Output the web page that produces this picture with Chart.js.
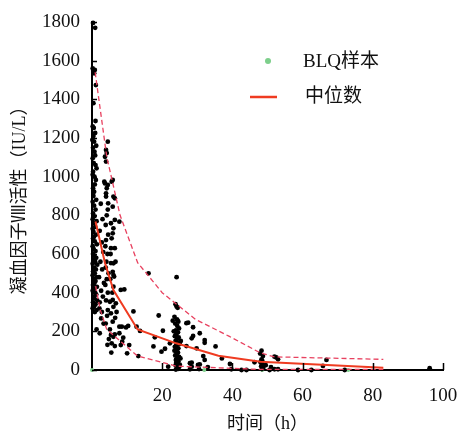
<!DOCTYPE html>
<html>
<head>
<meta charset="utf-8">
<script src="https://cdn.jsdelivr.net/npm/chart.js@4.4.1/dist/chart.umd.min.js"></script>
<style>
    html, body { margin: 0; padding: 0; background: #fff; }
    #wrap { width: 460px; height: 432px; }
</style>
</head>
<body>
<div id="wrap"><canvas id="fviiiChart"></canvas></div>
<script>
// --- data ---
const xTicks = [0, 20, 40, 60, 80, 100];
const yTicks = [0, 200, 400, 600, 800, 1000, 1200, 1400, 1600, 1800];

// observed samples: [time (h), FVIII activity (IU/L)]
const samplePoints = [
    // 0 - 1.5 h
    [0.3,1795],[0.9,1770],[0.2,1560],[0.8,1552],[0.6,1535],[1.1,1474],[0.4,1380],[1.0,1288],
    [0.2,1260],[0.5,1252],[0.9,1226],[0.4,1210],[0.1,1190],[0.6,1181],[1.2,1160],[0.3,1150],
    [0.7,1129],[0.9,1110],[0.2,1095],[0.5,1070],[1.0,1060],[1.3,1043],[0.3,1026],[0.2,1010],
    [0.7,1000],[1.1,983],[0.8,960],[0.3,940],[0.6,922],[0.4,900],[1.2,880],[0.2,870],
    [0.6,850],[1.0,830],[0.3,810],[0.7,795],[0.2,780],[1.3,770],[0.5,760],[0.9,740],
    [0.2,730],[0.4,715],[1.1,700],[0.6,690],[0.3,680],[0.8,665],[1.4,650],[0.2,640],
    [0.5,625],[1.0,615],[0.3,600],[0.7,590],[1.2,580],[0.4,570],[0.9,560],[0.2,550],
    [1.5,545],[0.6,530],[1.1,520],[0.3,510],[0.8,500],[0.2,490],[1.3,480],[0.5,470],
    [1.0,460],[0.7,450],[0.3,440],[1.4,430],[0.6,420],[0.2,410],[0.9,400],[1.2,390],
    [0.4,380],[0.7,370],[1.5,360],[0.3,350],[1.0,340],[0.6,330],[0.2,320],[1.3,310],
    [0.8,300],[1.3,210],
    // 2 - 3.5 h
    [2.1,319],[2.6,267],[2.2,190],[3.5,974],[2.5,860],[3.0,780],[2.2,720],[2.8,660],
    [3.2,610],[2.4,560],[2.9,520],[2.0,480],[3.4,450],[2.6,410],[3.1,380],[2.2,350],
    [2.8,300],[3.3,240],
    // 3.7 - 5 h
    [4.5,1181],[4.0,1138],[4.2,1122],[3.7,1103],[4.0,1078],[4.5,957],[3.7,965],[4.2,940],
    [4.0,914],[4.0,897],[4.6,862],[4.5,830],[4.2,800],[3.9,750],[4.6,700],[4.0,672],
    [3.8,640],[4.4,600],[4.1,560],[3.9,530],[4.7,500],[4.2,470],[3.8,440],[4.5,400],
    [4.0,360],[4.5,310],[4.3,280],[3.9,240],[4.8,160],[4.4,130],
    // 5 - 10 h
    [5.9,983],[5.6,974],[6.5,888],[6.1,897],[5.9,845],[7.8,767],[6.5,776],[5.4,759],
    [6.1,733],[5.9,707],[5.6,681],[6.5,630],[5.4,630],[5.3,600],[6.7,560],[5.4,553],
    [6.1,552],[5.9,508],[6.3,483],[6.1,491],[5.2,470],[6.1,431],[8.2,414],[9.2,417],
    [5.8,400],[5.9,362],[5.1,353],[6.8,345],[6.1,327],[7.0,300],[5.4,293],[6.6,270],
    [5.9,250],[7.8,224],[8.5,224],[9.7,220],[5.1,210],[7.8,190],[5.4,181],[6.5,184],
    [6.1,172],[8.9,167],[8.6,146],[5.6,138],[6.5,124],[8.2,129],[10.6,129],[10.0,86],
    [5.5,90],
    // 10 - 23 h
    [11.8,303],[10.3,228],[12.7,224],[13.7,202],[13.2,72],[16.1,500],[19.0,282],[20.2,203],
    [20.8,110],[19.8,95],[17.9,169],[17.5,122],[22.2,138],[21.7,17],[23.0,255],
    // 24 h column
    [24.1,480],[24.1,328],[23.8,340],[24.4,322],[23.5,275],[24.2,262],[24.6,250],[23.7,240],
    [24.3,228],[24.8,215],[23.9,205],[24.5,195],[24.0,185],[23.6,175],[24.7,168],[24.2,160],
    [23.8,150],[24.4,142],[25.0,135],[24.0,128],[23.6,120],[24.6,112],[24.2,105],[23.9,98],
    [24.5,90],[24.1,82],[23.7,75],[24.8,68],[24.3,60],[23.9,52],[24.6,45],[24.0,38],
    [24.4,30],[23.8,24],[24.9,18],[24.2,12],[24.6,6],[23.9,2],[25.3,150],[25.2,60],
    [23.3,200],[24.4,255],[23.5,100],[25.0,28],
    // 26 - 46 h
    [27.4,245],[28.8,176],[26.9,124],[28.4,38],[30.7,29],[31.7,72],[32.1,141],[27.9,4],
    [26.9,242],[28.8,221],[28.4,164],[30.7,190],[32.1,155],[29.8,112],[32.1,52],[27.9,35],
    [28.4,17],[30.2,26],[35.2,122],[30.5,5],[33.0,15],[39.3,31],[39.7,4],[42.6,0],
    [44.0,0],[46.3,40],[37.0,60],
    // 48 h and later
    [48.3,100],[48.7,72],[48.3,55],[48.0,40],[48.6,30],[48.2,20],[48.8,12],[48.4,5],
    [47.9,85],[48.5,48],[52.0,69],[52.5,65],[53.0,55],[50.6,0],[52.0,4],[53.0,4],
    [49.5,25],[51.0,15],[58.7,0],[62.5,0],[65.8,21],[66.8,52],[72.0,0],[96.2,9]
];

// samples below the limit of quantification
const blqHours = [0, 32, 48.5, 73];
const blqActivity = [0, 0, 0, 0];

// median curve and the two dashed bounds
const medianHours = [1.0, 3.7, 6.1, 13, 24, 36, 48, 83];
const medianActivity = [768, 553, 414, 210, 138, 74, 43, 12];

const upperHours = [0.9, 4.2, 8.0, 13, 20, 29.5, 39, 48, 52, 83];
const upperActivity = [1540, 1103, 800, 555, 400, 262, 175, 88, 68, 55];

const lowerHours = [1.05, 2.3, 4.2, 13, 24, 48, 83];
const lowerActivity = [434, 314, 210, 72, 20, 3, 3];

const SERIF = "'Liberation Serif', 'Noto Sans CJK SC', serif";
const RED = '#ef3b21';
const PINK = '#e8415f';
const GREEN = '#7dcf8b';

const toXY = (xs, ys) => xs.map((x, i) => ({ x, y: ys[i] }));

// inward tick marks, drawn from the scales
const inwardTicks = {
    id: 'inwardTicks',
    afterDraw(chart) {
        const { ctx, chartArea, scales } = chart;
        ctx.save();
        ctx.strokeStyle = '#000';
        ctx.lineWidth = 1.5;
        ctx.beginPath();
        yTicks.forEach(v => {
            const y = Math.round(scales.y.getPixelForValue(v)) + 0.5;
            ctx.moveTo(chartArea.left, y);
            ctx.lineTo(chartArea.left + 5, y);
        });
        xTicks.filter(v => v > 0).forEach(v => {
            const x = Math.round(scales.x.getPixelForValue(v)) + 0.5;
            ctx.moveTo(x, chartArea.bottom);
            ctx.lineTo(x, chartArea.bottom - 7);
        });
        ctx.stroke();
        ctx.restore();
    }
};

// legend in the upper right of the plot
const innerLegend = {
    id: 'innerLegend',
    afterDraw(chart) {
        const ctx = chart.ctx;
        ctx.save();
        ctx.font = '19px ' + SERIF;
        ctx.textBaseline = 'middle';

        ctx.beginPath();
        ctx.arc(268, 61, 3, 0, Math.PI * 2);
        ctx.fillStyle = GREEN;
        ctx.fill();
        ctx.fillStyle = '#111';
        ctx.fillText(chart.data.datasets[4].label, 303, 62);

        ctx.strokeStyle = RED;
        ctx.lineWidth = 2.5;
        ctx.beginPath();
        ctx.moveTo(250, 97);
        ctx.lineTo(277, 97);
        ctx.stroke();
        ctx.fillText(chart.data.datasets[0].label, 305, 97);
        ctx.restore();
    }
};

new Chart(document.getElementById('fviiiChart'), {
    type: 'scatter',
    data: {
        datasets: [
            {
                label: '中位数',
                type: 'line',
                data: toXY(medianHours, medianActivity),
                borderColor: RED,
                borderWidth: 2,
                pointRadius: 0,
                tension: 0
            },
            {
                label: 'upper',
                type: 'line',
                data: toXY(upperHours, upperActivity),
                borderColor: PINK,
                borderWidth: 1.3,
                borderDash: [5, 3],
                pointRadius: 0,
                tension: 0
            },
            {
                label: 'lower',
                type: 'line',
                data: toXY(lowerHours, lowerActivity),
                borderColor: PINK,
                borderWidth: 1.3,
                borderDash: [5, 3],
                pointRadius: 0,
                tension: 0
            },
            {
                label: 'samples',
                data: samplePoints.map(([x, y]) => ({ x, y })),
                backgroundColor: '#000',
                borderWidth: 0,
                pointRadius: 2.4,
                clip: false
            },
            {
                label: 'BLQ样本',
                data: toXY(blqHours, blqActivity),
                backgroundColor: GREEN,
                borderWidth: 0,
                pointRadius: 2,
                clip: false
            }
        ]
    },
    options: {
        responsive: true,
        maintainAspectRatio: false,
        animation: false,
        layout: { padding: { left: 0, right: 17, top: 22, bottom: 0 } },
        plugins: {
            legend: { display: false },
            tooltip: { enabled: false }
        },
        scales: {
            x: {
                type: 'linear',
                min: 0,
                max: 100,
                afterFit: s => { s.height = 62; s.paddingLeft = 0; s.paddingRight = 0; },
                afterBuildTicks: s => { s.ticks = xTicks.map(v => ({ value: v })); },
                grid: { drawOnChartArea: false, drawTicks: false },
                border: { color: '#000', width: 2 },
                ticks: {
                    padding: 15,
                    color: '#111',
                    font: { family: SERIF, size: 19 },
                    callback: v => (v === 0 ? '' : String(v))
                },
                title: {
                    display: true,
                    text: '时间（h）',
                    color: '#111',
                    font: { family: SERIF, size: 18 },
                    padding: { top: 0, bottom: -3 }
                }
            },
            y: {
                type: 'linear',
                min: 0,
                max: 1800,
                afterFit: s => { s.width = 92; s.paddingTop = 0; s.paddingBottom = 0; },
                afterBuildTicks: s => { s.ticks = yTicks.map(v => ({ value: v })); },
                grid: { drawOnChartArea: false, drawTicks: false },
                border: { color: '#000', width: 2 },
                ticks: {
                    padding: 12,
                    color: '#111',
                    font: { family: SERIF, size: 19 },
                    callback: v => String(v)
                },
                title: {
                    display: true,
                    text: '凝血因子Ⅷ活性（IU/L）',
                    color: '#111',
                    font: { family: SERIF, size: 18 },
                    padding: { top: 9, bottom: 0 }
                }
            }
        }
    },
    plugins: [inwardTicks, innerLegend]
});
</script>
</body>
</html>
